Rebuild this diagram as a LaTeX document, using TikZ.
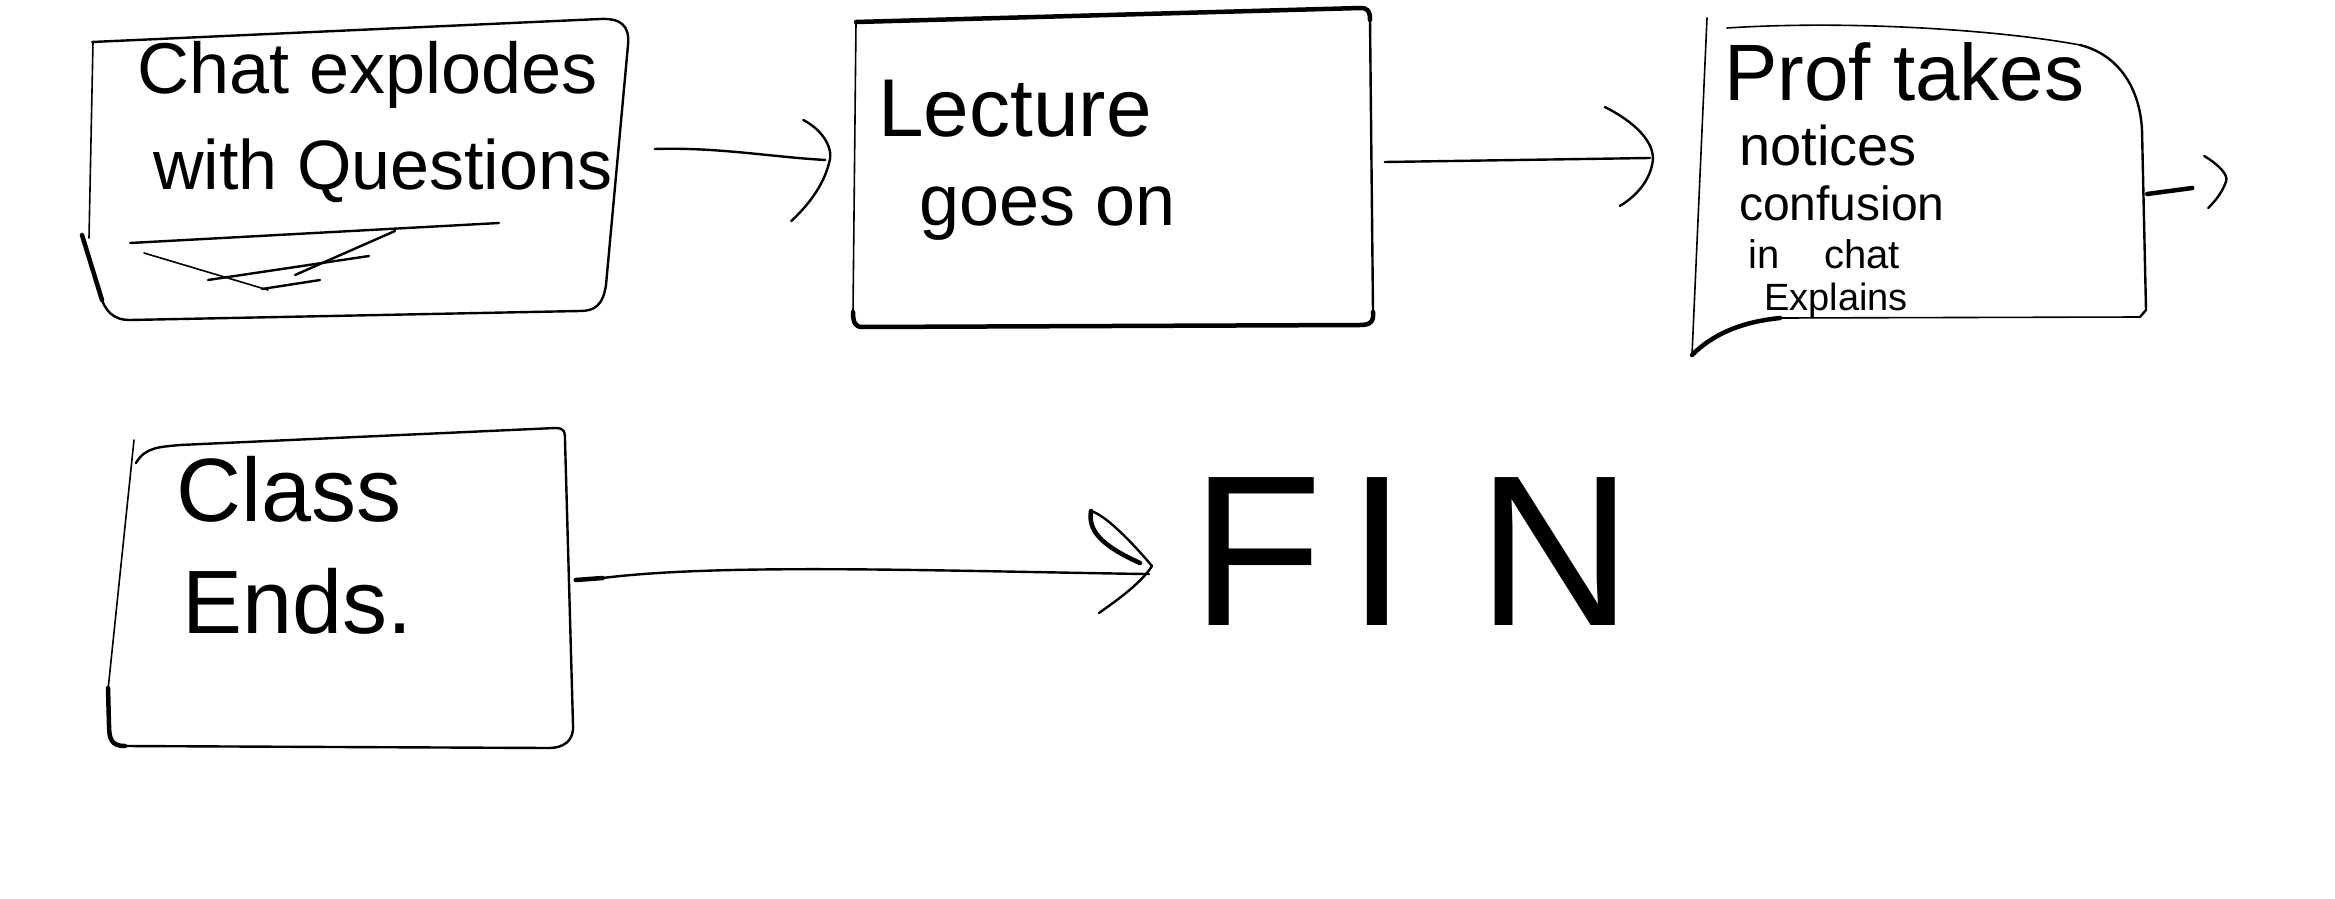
\documentclass[tikz,border=0pt]{standalone}
\usepackage{fontspec}
\setmainfont{Liberation Sans}
\usetikzlibrary{calc}
\newcommand{\hsz}[1]{\fontsize{#1}{#1}\selectfont}
\tikzset{
  sk/.style={line width=2.4pt, black, line cap=round, line join=round},
  skthick/.style={line width=4.5pt, black, line cap=round, line join=round},
  skthin/.style={line width=1.6pt, black, line cap=round, line join=round},
  region/.style={draw=none, inner sep=0pt},
  hand/.style={anchor=base west, inner sep=0pt, text=black}
}
\begin{document}
\begin{tikzpicture}[x=1pt,y=-1pt]
\fill[white] (0,0) rectangle (2335,899);
\useasboundingbox (0,0) rectangle (2335,899);

% ---------- invisible box regions (for connectors) ----------
\node[region, minimum width=539pt, minimum height=302pt] (b1) at (358,169) {};
\node[region, minimum width=521pt, minimum height=321pt] (b2) at (1112,167) {};
\node[region, minimum width=454pt, minimum height=339pt] (b3) at (1917,187) {};
\node[region, minimum width=469pt, minimum height=328pt] (b4) at (338,588) {};

% ---------- box 1 outline ----------
\draw[sk] (92,42) -- (600,19) .. controls (620,18) and (630,25) .. (628,45)
  -- (606,285) .. controls (603,305) and (595,311) .. (580,311)
  -- (130,320) .. controls (112,320) and (105,310) .. (100,295);
\draw[skthin] (89,238) -- (93,42);
\draw[skthick] (82,235) -- (102,300);
% scribble under text
\draw[sk] (130,243) -- (499,223);
\draw[skthin] (144,253) -- (268,290);
\draw[sk] (208,280) -- (369,256);
\draw[sk] (262,289) -- (320,280);
\draw[sk] (295,275) -- (395,231);

% ---------- box 2 outline ----------
\draw[skthick] (856,22) -- (1360,8) .. controls (1368,8) and (1370,11) .. (1370,20);
\draw[sk] (1370,20) -- (1373,312);
\draw[skthick] (1373,312) .. controls (1374,322) and (1370,325) .. (1360,325)
  -- (862,327) .. controls (855,327) and (853,322) .. (853,312);
\draw[skthin] (853,312) -- (856,22);

% ---------- box 3 outline ----------
\draw[skthin] (1727,28) .. controls (1850,20) and (2000,30) .. (2080,45);
\draw[sk] (2080,45) .. controls (2120,55) and (2140,90) .. (2142,130)
  -- (2146,310) -- (2140,317);
\draw[skthin] (2140,317) -- (1780,318);
\draw[skthick] (1780,318) .. controls (1740,322) and (1712,335) .. (1692,355);
\draw[skthin] (1692,355) -- (1707,18);

% ---------- box 4 outline ----------
\draw[sk] (136,463) .. controls (145,447) and (160,447) .. (180,445)
  -- (555,428) .. controls (565,428) and (565,432) .. (565,440)
  -- (573,725) .. controls (574,740) and (565,748) .. (548,748)
  -- (125,746);
\draw[skthick] (125,746) .. controls (112,746) and (109,740) .. (109,725) -- (108,688);
\draw[skthin] (108,690) -- (134,440);

% ---------- texts ----------
\node[hand, font=\hsz{72}] (t1a) at (137,93) {Chat explodes};
\node[hand, font=\hsz{70}] (t1b) at (153,189) {with Questions};

\node[hand, font=\hsz{82}] (t2a) at (878,136) {Lecture};
\node[hand, font=\hsz{72}] (t2b) at (919,225) {goes on};

\node[hand, font=\hsz{80}] (t3a) at (1724,100) {Prof takes};
\node[hand, font=\hsz{56}] (t3b) at (1739,165) {notices};
\node[hand, font=\hsz{48}] (t3c) at (1739,220) {confusion};
\node[hand, font=\hsz{40}] (t3d) at (1748,268) {in\hspace{45pt}chat};
\node[hand, font=\hsz{38}] (t3e) at (1764,310) {Explains};

\node[hand, font=\hsz{90}] (t4a) at (176,521) {Class};
\node[hand, font=\hsz{90}] (t4b) at (182,633) {Ends.};

\node[hand, font=\hsz{215}] (fin) at (1191,625) {F\hspace{25pt}I\hspace{70pt}N};

% ---------- connectors ----------
% box1 -> box2
\draw[sk] ($(b1.east)+(27,-20)$) .. controls ($(b1.east)+(90,-22)$) and ($(b2.west)+(-80,-10)$) .. ($(b2.west)+(-26,-7)$);
\draw[sk] ($(b2.west)+(-48,-47)$) .. controls ($(b2.west)+(-25,-35)$) and ($(b2.west)+(-18,-15)$) .. ($(b2.west)+(-22,-5)$)
  .. controls ($(b2.west)+(-28,20)$) and ($(b2.west)+(-45,40)$) .. ($(b2.west)+(-60,54)$);

% box2 -> box3
\draw[sk] ($(b2.east)+(12,-5)$) -- ($(b3.west)+(-40,-29)$);
\draw[sk] ($(b3.west)+(-85,-80)$) .. controls ($(b3.west)+(-55,-65)$) and ($(b3.west)+(-35,-45)$) .. ($(b3.west)+(-37,-26)$)
  .. controls ($(b3.west)+(-40,-5)$) and ($(b3.west)+(-55,10)$) .. ($(b3.west)+(-70,19)$);

% box3 -> (off)
\coordinate (b3out) at ($(b3.east)+(48,1)$);
\draw[skthick] ($(b3.east)+(3,7)$) -- (b3out);
\draw[sk] ($(b3.east)+(60,-31)$) .. controls ($(b3.east)+(75,-22)$) and ($(b3.east)+(84,-12)$) .. ($(b3.east)+(82,-6)$)
  .. controls ($(b3.east)+(78,6)$) and ($(b3.east)+(70,15)$) .. ($(b3.east)+(64,21)$);

% box4 -> FIN
\draw[skthick] ($(b4.east)+(3,-8)$) -- ($(b4.east)+(30,-10)$);
\draw[sk] ($(b4.east)+(30,-10)$) .. controls ($(b4.east)+(150,-25)$) and ($(fin.west)+(-250,20)$) .. ($(fin.west)+(-42,23)$);
\draw[sk] (1091,511) .. controls (1105,515) and (1130,540) .. (1152,566)
  .. controls (1140,585) and (1110,605) .. (1099,613);
\draw[skthick] (1091,511) .. controls (1088,530) and (1100,545) .. (1140,563);
\end{tikzpicture}
\end{document}
